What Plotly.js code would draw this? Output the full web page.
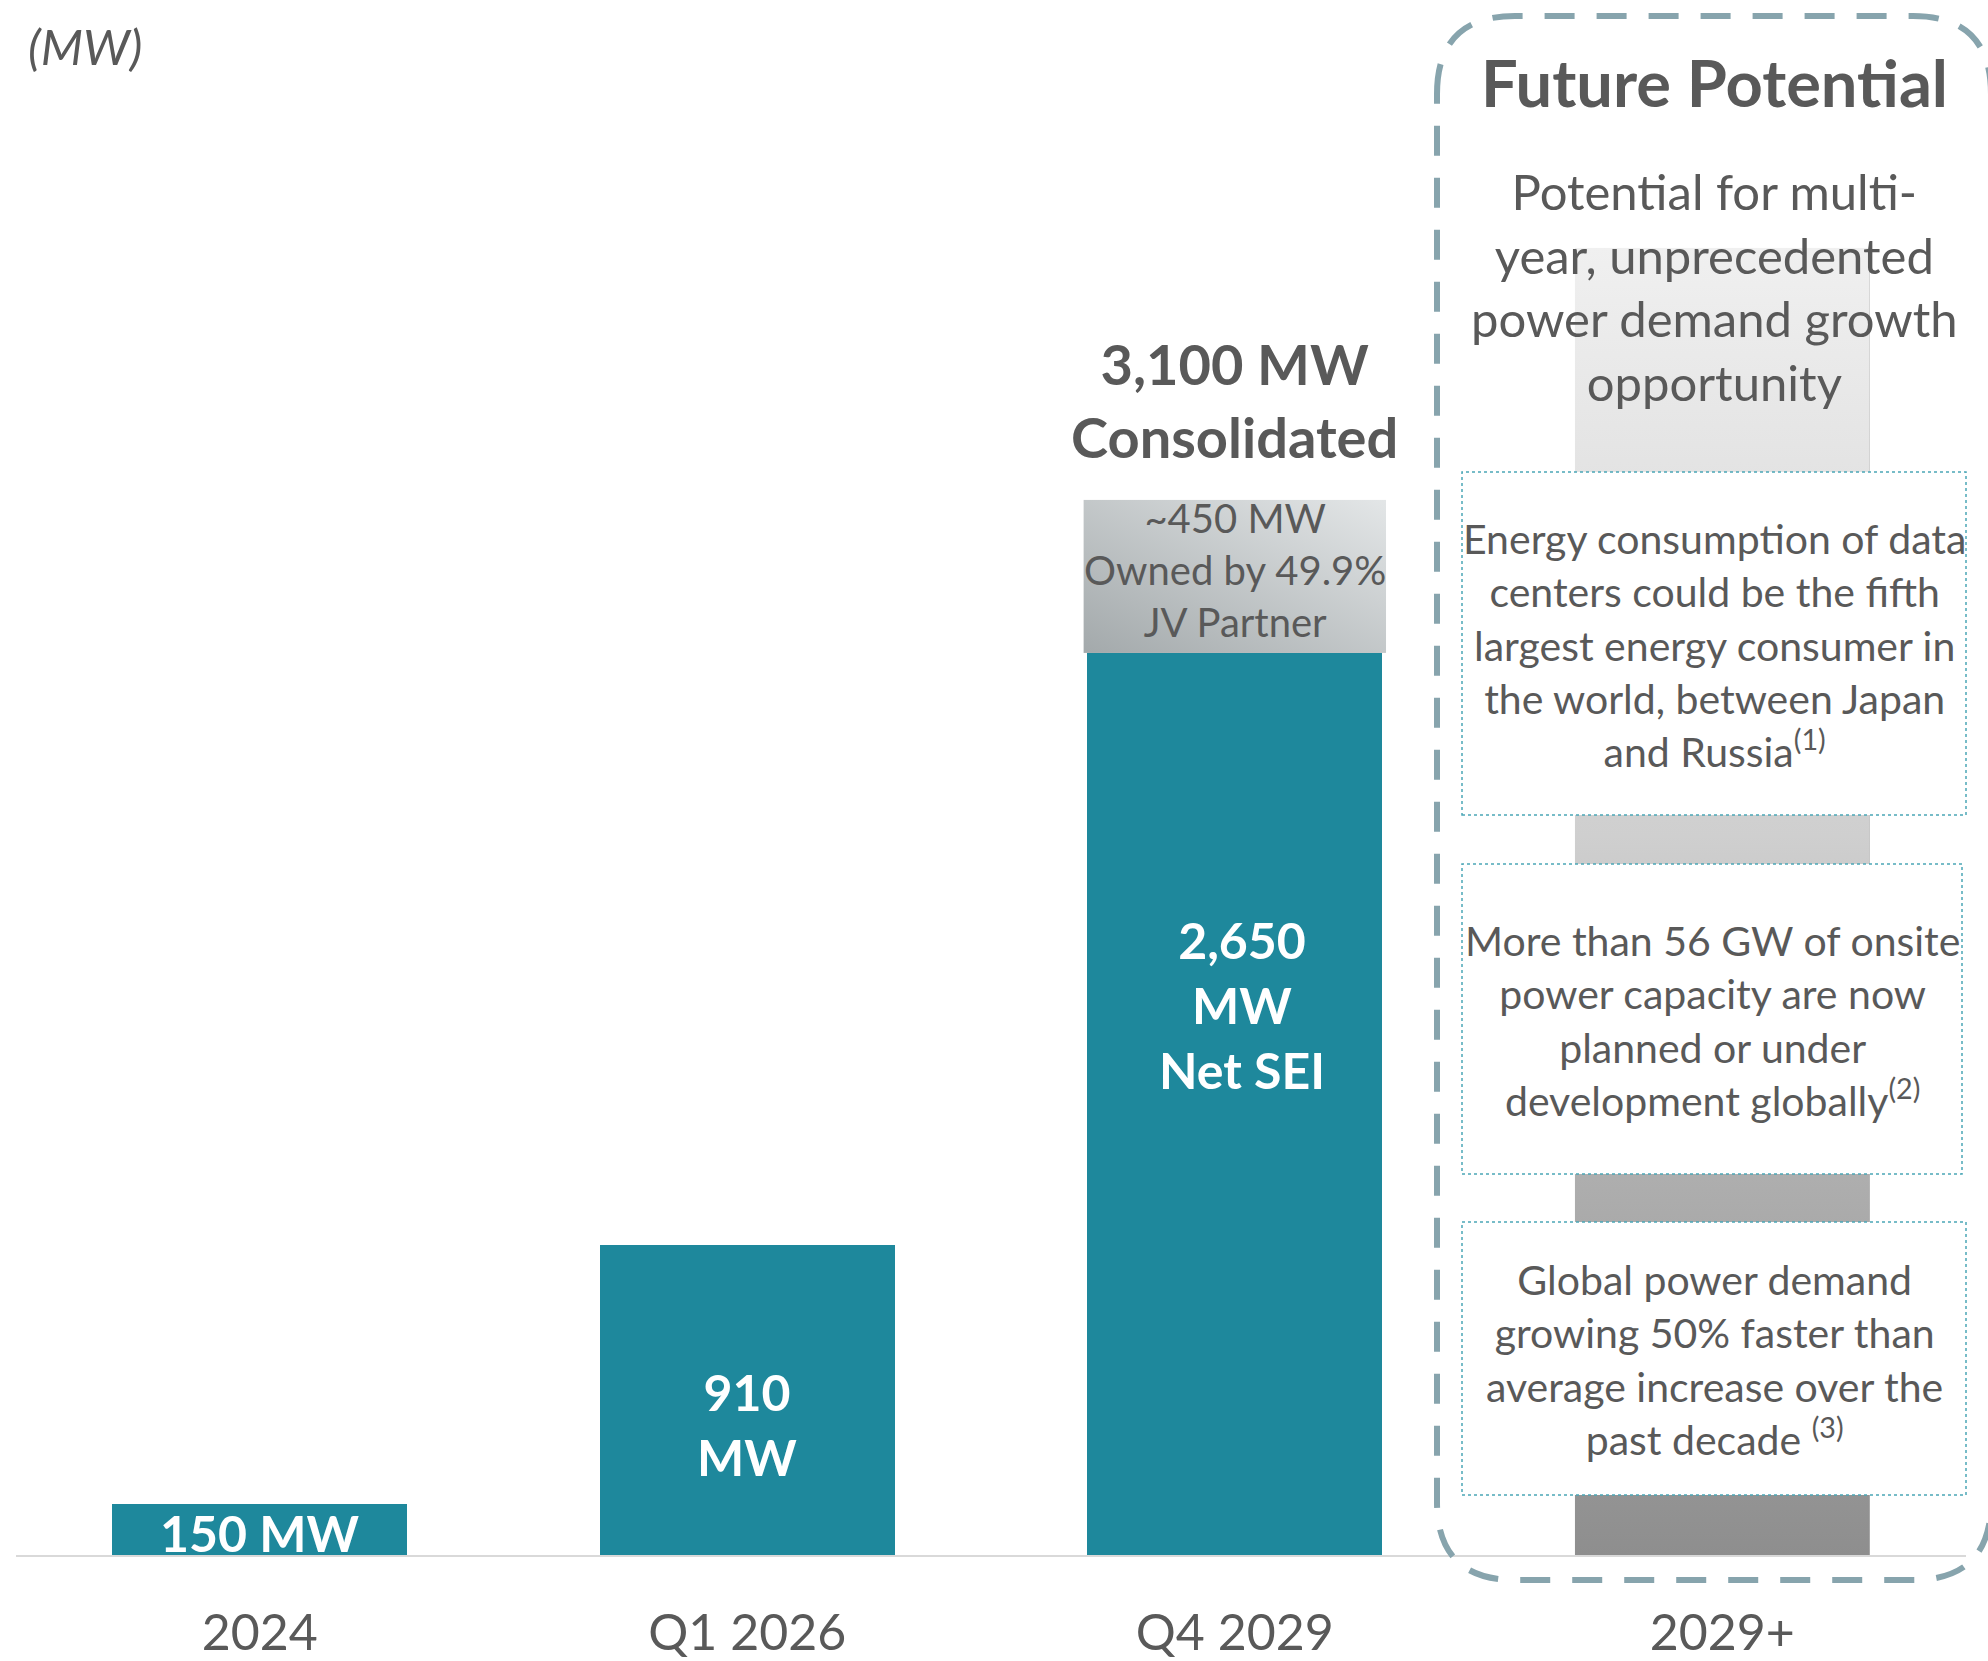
<!DOCTYPE html>
<html>
<head>
<meta charset="utf-8">
<script src="https://cdn.plot.ly/plotly-3.0.1.min.js"></script>
<style>
  html, body { margin: 0; padding: 0; background: #ffffff; }
  #chart { width: 1988px; height: 1661px; }
</style>
</head>
<body>
<div id="chart"></div>
<script>
// ---------------- DATA ----------------
const categories = ['2024', 'Q1 2026', 'Q4 2029', '2029+'];
const netSEI = [150, 910, 2650, null];
const jvPartner = [null, null, 450, null];
const futurePotential = [null, null, null, 3840];
const barLabels = ['150 MW', '910<br>MW', '2,650<br>MW<br>Net SEI'];
const jvLabel = '~450 MW<br>Owned by 49.9%<br>JV Partner';
const totalLabel = '3,100 MW<br>Consolidated';
const unitLabel = '(MW)';
const futureTitle = 'Future Potential';
const futureSubtitle = 'Potential for multi-<br>year, unprecedented<br>power demand growth<br>opportunity';
const futureBoxes = [
  'Energy consumption of data<br>centers could be the fifth<br>largest energy consumer in<br>the world, between Japan<br>and Russia<sup>(1)</sup>',
  'More than 56 GW of onsite<br>power capacity are now<br>planned or under<br>development globally<sup>(2)</sup>',
  'Global power demand<br>growing 50% faster than<br>average increase over the<br>past decade <sup>(3)</sup>'
];

// ---------------- LAYOUT HELPERS ----------------
const W = 1988, H = 1661;
const M = {l: 16, r: 22, t: 0, b: 106};
const PW = W - M.l - M.r, PH = H - M.t - M.b;
const px2x = px => (px - M.l) / PW;
const py2y = py => (H - M.b - py) / PH;
const yMax = 4568;
const bargap = 0.395;
const half = (1 - bargap) / 2;
const n = categories.length;

const TEXT = '#595959';
const TEAL = '#1e889c';
const FONT = 'Lato, "Open Sans", sans-serif';

function gradURI(x1, y1, x2, y2, stops) {
  const st = stops.map(s => `<stop offset="${s[0]}" stop-color="${s[1]}"/>`).join('');
  const svg = `<svg xmlns="http://www.w3.org/2000/svg" width="100" height="100" viewBox="0 0 100 100" preserveAspectRatio="none">` +
    `<defs><linearGradient id="g" x1="${x1}" y1="${y1}" x2="${x2}" y2="${y2}">${st}</linearGradient></defs>` +
    `<rect x="0" y="0" width="100" height="100" fill="url(#g)"/></svg>`;
  return 'data:image/svg+xml;charset=utf-8,' + encodeURIComponent(svg);
}

// ---------------- TRACES ----------------
const traces = [
  {type: 'bar', name: 'Net SEI', x: categories, y: netSEI,
   marker: {color: TEAL, line: {width: 0}}, hoverinfo: 'skip'},
  {type: 'bar', name: 'JV Partner', x: categories, y: jvPartner,
   marker: {color: '#c5cacc', line: {width: 0}}, hoverinfo: 'skip'},
  {type: 'bar', name: 'Future Potential', x: categories, y: futurePotential,
   marker: {color: '#c0c0c0', line: {width: 0}}, hoverinfo: 'skip'}
];

// ---------------- ANNOTATIONS ----------------
const annotations = [];
const labelFrac = [0.43, 0.42, 0.61];
const labelShift = [0, 0, 7];
barLabels.forEach((t, i) => {
  annotations.push({
    x: i, y: netSEI[i] * labelFrac[i], xref: 'x', yref: 'y', xshift: labelShift[i],
    text: '<b>' + t + '</b>', showarrow: false, xanchor: 'center', yanchor: 'middle',
    font: {family: FONT, size: 50, color: '#ffffff'}
  });
});
annotations.push({
  x: 2, y: netSEI[2] + jvPartner[2] / 2, xref: 'x', yref: 'y',
  text: jvLabel, showarrow: false, xanchor: 'center', yanchor: 'middle', yshift: 6,
  font: {family: FONT, size: 40, color: TEXT}
});
annotations.push({
  x: 2, y: netSEI[2] + jvPartner[2], xref: 'x', yref: 'y',
  text: '<b>' + totalLabel + '</b>', showarrow: false, xanchor: 'center', yanchor: 'bottom',
  yshift: 28, font: {family: FONT, size: 56, color: TEXT}
});
annotations.push({
  x: px2x(26), y: py2y(46), xref: 'paper', yref: 'paper',
  text: '<i>' + unitLabel + '</i>', showarrow: false, xanchor: 'left', yanchor: 'middle',
  font: {family: FONT, size: 49, color: TEXT}
});
const fx = px2x(1714);
annotations.push({
  x: fx, y: py2y(82), xref: 'paper', yref: 'paper',
  text: '<b>' + futureTitle + '</b>', showarrow: false, xanchor: 'center', yanchor: 'middle',
  font: {family: FONT, size: 65, color: TEXT}
});
annotations.push({
  x: fx, y: py2y(287), xref: 'paper', yref: 'paper',
  text: futureSubtitle, showarrow: false, xanchor: 'center', yanchor: 'middle',
  font: {family: FONT, size: 49, color: TEXT}
});

// text boxes (pixel geometry)
const boxes = [
  {x0: 1462, x1: 1966, y0: 472, y1: 815},
  {x0: 1462, x1: 1962, y0: 864, y1: 1174},
  {x0: 1462, x1: 1966, y0: 1222, y1: 1495}
];
const shapes = [];
boxes.forEach((b, i) => {
  shapes.push({
    type: 'rect', xref: 'paper', yref: 'paper', layer: 'above',
    x0: px2x(b.x0), x1: px2x(b.x1), y0: py2y(b.y1), y1: py2y(b.y0),
    fillcolor: '#ffffff', line: {color: '#4ba6b6', width: 1.5, dash: 'dot'}
  });
  annotations.push({
    x: px2x((b.x0 + b.x1) / 2), y: py2y((b.y0 + b.y1) / 2 + 1), xref: 'paper', yref: 'paper',
    text: futureBoxes[i], showarrow: false, xanchor: 'center', yanchor: 'middle',
    font: {family: FONT, size: 41, color: TEXT}
  });
});

// dashed rounded frame
(function () {
  const L = 1437, T = 16, R = 1991, B = 1580, r = 78;
  const P = (x, y) => px2x(x).toFixed(5) + ',' + py2y(y).toFixed(5);
  const path = 'M' + P(L, T + r) + ' Q' + P(L, T) + ' ' + P(L + r, T) +
    ' L' + P(R - r, T) + ' Q' + P(R, T) + ' ' + P(R, T + r) +
    ' L' + P(R, B - r) + ' Q' + P(R, B) + ' ' + P(R - r, B) +
    ' L' + P(L + r, B) + ' Q' + P(L, B) + ' ' + P(L, B - r) + ' Z';
  shapes.push({
    type: 'path', xref: 'paper', yref: 'paper', layer: 'above', path: path,
    line: {color: '#87a4ad', width: 6, dash: '30px,22px'}, fillcolor: 'rgba(0,0,0,0)'
  });
})();

// gradient overlays for the gray bars
const images = [
  {
    source: gradURI('0', '0', '0', '1', [[0, '#f0f0f0'], [0.45, '#cfcfcf'], [0.72, '#adadad'], [1, '#8e8e8e']]),
    xref: 'x domain', yref: 'y',
    x: (3 - half + 0.5) / n, sizex: (2 * half) / n,
    y: futurePotential[3], sizey: futurePotential[3],
    xanchor: 'left', yanchor: 'top', sizing: 'stretch', layer: 'above'
  },
  {
    source: gradURI('0', '1', '1', '0', [[0, '#a3a9ab'], [1, '#e3e6e7']]),
    xref: 'x domain', yref: 'y',
    x: (2 - half + 0.5) / n - 0.002, sizex: (2 * half) / n + 0.004,
    y: netSEI[2] + jvPartner[2], sizey: jvPartner[2],
    xanchor: 'left', yanchor: 'top', sizing: 'stretch', layer: 'above'
  }
];

const layout = {
  width: W, height: H,
  margin: M,
  paper_bgcolor: '#ffffff', plot_bgcolor: '#ffffff',
  barmode: 'stack', bargap: bargap,
  showlegend: false,
  font: {family: FONT, color: TEXT},
  xaxis: {
    type: 'category', range: [-0.5, 3.5], fixedrange: true,
    showline: true, linecolor: '#d9d9d9', linewidth: 2,
    showgrid: false, zeroline: false, ticks: '',
    ticklabelstandoff: 33,
    tickfont: {family: FONT, size: 50, color: TEXT}
  },
  yaxis: {range: [0, yMax], visible: false, fixedrange: true},
  annotations: annotations,
  shapes: shapes,
  images: images
};

Plotly.newPlot('chart', traces, layout, {displayModeBar: false, staticPlot: true});
</script>
</body>
</html>
